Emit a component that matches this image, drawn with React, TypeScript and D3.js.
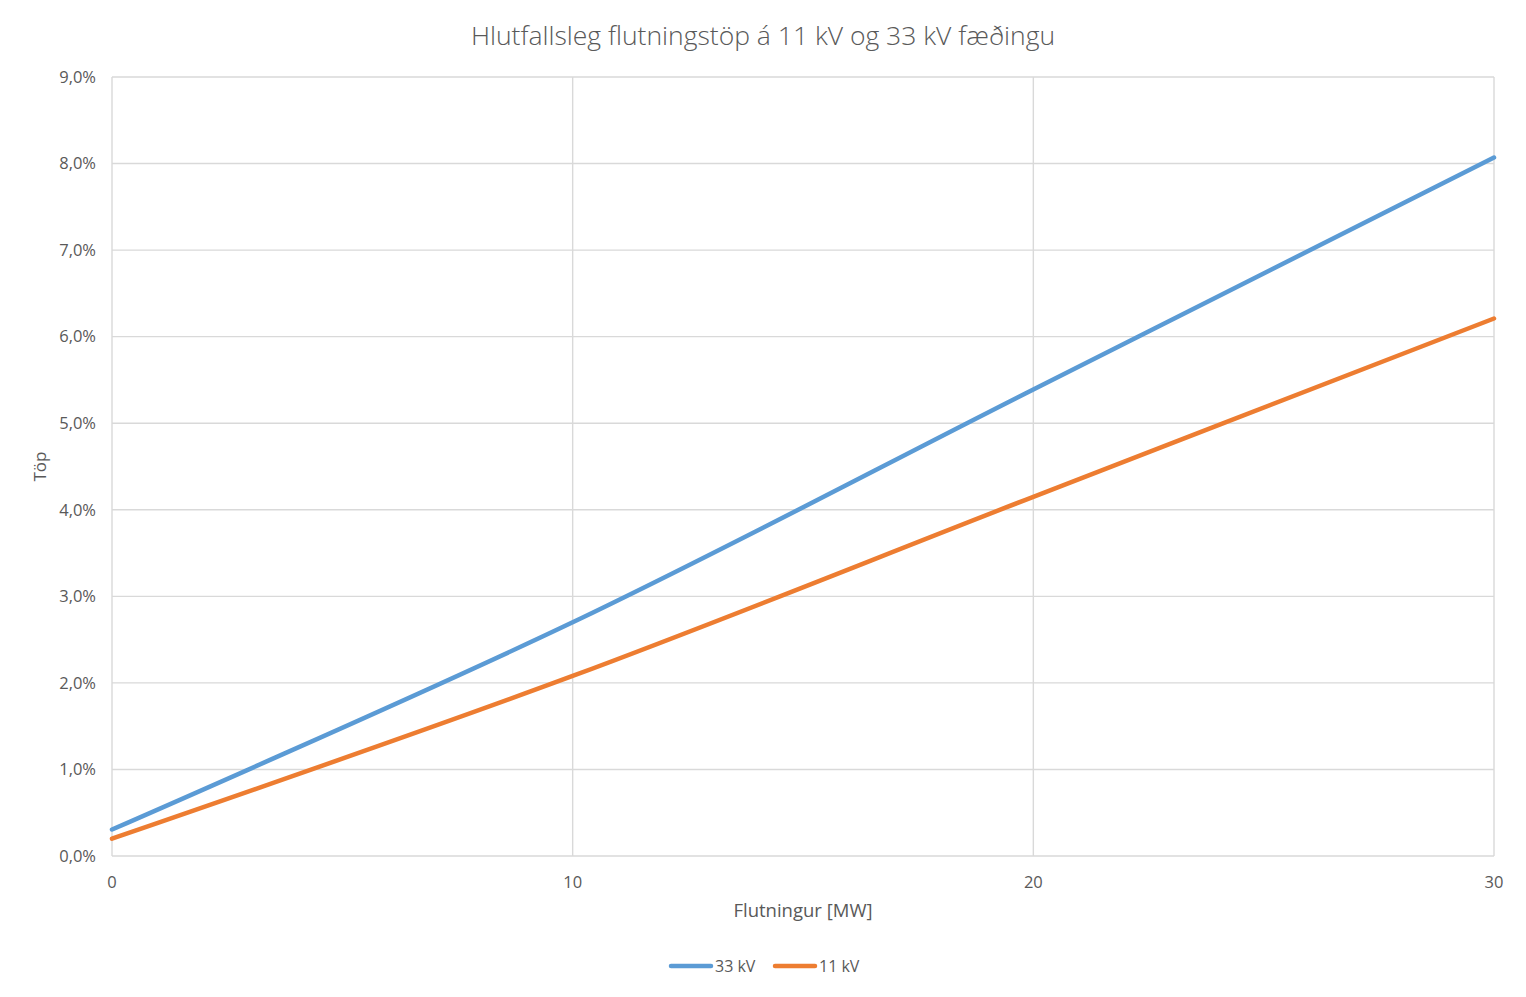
import { useEffect, useRef } from "react";
import * as d3 from "d3";

// Load flow [MW] and relative losses [%]
const loadMW = [0, 10, 20, 30];
const loss33kV = [0.306, 2.7, 5.39, 8.07];
const loss11kV = [0.2, 2.08, 4.15, 6.21];
const yTicks = [0, 1, 2, 3, 4, 5, 6, 7, 8, 9];
const xTicks = [0, 10, 20, 30];

const seriesNames = ["33 kV", "11 kV"];
const seriesColors = ["#5b9bd5", "#ed7d31"];

const WIDTH = 1526;
const HEIGHT = 997;
const FONT = "'Open Sans', 'Liberation Sans', sans-serif";
const TEXT = "#595959";
const GRID = "#d9d9d9";

const locale = d3.formatLocale({
  decimal: ",",
  thousands: ".",
  grouping: [3],
  currency: ["", " kr"],
});
const pct = locale.format(".1f");

export default function App() {
  const svgRef = useRef<SVGSVGElement>(null);

  useEffect(() => {
    if (!svgRef.current) return;
    const svg = d3.select(svgRef.current);
    svg.selectAll("*").remove();

    const margin = { top: 77, right: 32, bottom: 141, left: 112 };
    const innerW = WIDTH - margin.left - margin.right;
    const innerH = HEIGHT - margin.top - margin.bottom;

    const x = d3.scaleLinear().domain([0, 30]).range([0, innerW]);
    const y = d3.scaleLinear().domain([0, 9]).range([innerH, 0]);

    const g = svg
      .append("g")
      .attr("transform", `translate(${margin.left}, ${margin.top})`);

    // Gridlines
    g.selectAll(".hgrid")
      .data(yTicks)
      .enter()
      .append("line")
      .attr("x1", 0)
      .attr("x2", innerW)
      .attr("y1", (d) => y(d))
      .attr("y2", (d) => y(d))
      .attr("stroke", GRID)
      .attr("stroke-width", 1.4);

    g.selectAll(".vgrid")
      .data(xTicks)
      .enter()
      .append("line")
      .attr("x1", (d) => x(d))
      .attr("x2", (d) => x(d))
      .attr("y1", 0)
      .attr("y2", innerH)
      .attr("stroke", GRID)
      .attr("stroke-width", 1.4);

    // Tick labels
    g.selectAll(".ylabel")
      .data(yTicks)
      .enter()
      .append("text")
      .attr("x", -16)
      .attr("y", (d) => y(d))
      .attr("dy", "0.35em")
      .attr("text-anchor", "end")
      .style("font-family", FONT)
      .style("font-size", "16.5px")
      .style("fill", TEXT)
      .text((d) => pct(d) + "%");

    g.selectAll(".xlabel")
      .data(xTicks)
      .enter()
      .append("text")
      .attr("x", (d) => x(d))
      .attr("y", innerH + 26)
      .attr("dy", "0.35em")
      .attr("text-anchor", "middle")
      .style("font-family", FONT)
      .style("font-size", "16.5px")
      .style("fill", TEXT)
      .text((d) => d);

    // Lines
    const line = d3
      .line<[number, number]>()
      .x((d) => x(d[0]))
      .y((d) => y(d[1]))
      .curve(d3.curveCardinal.tension(0));

    [loss33kV, loss11kV].forEach((vals, i) => {
      g.append("path")
        .datum(loadMW.map((m, j) => [m, vals[j]] as [number, number]))
        .attr("d", line)
        .attr("fill", "none")
        .attr("stroke", seriesColors[i])
        .attr("stroke-width", 4.5)
        .attr("stroke-linecap", "round");
    });

    // Title and axis titles
    svg
      .append("text")
      .attr("x", WIDTH / 2)
      .attr("y", 36)
      .attr("dy", "0.35em")
      .attr("text-anchor", "middle")
      .style("font-family", FONT)
      .style("font-size", "26.5px")
      .style("font-weight", 300)
      .style("fill", TEXT)
      .text("Hlutfallsleg flutningstöp á 11 kV og 33 kV fæðingu");

    svg
      .append("text")
      .attr("x", margin.left + innerW / 2)
      .attr("y", 911)
      .attr("dy", "0.35em")
      .attr("text-anchor", "middle")
      .style("font-family", FONT)
      .style("font-size", "18.5px")
      .style("fill", TEXT)
      .text("Flutningur [MW]");

    svg
      .append("text")
      .attr("transform", `translate(40, ${margin.top + innerH / 2}) rotate(-90)`)
      .attr("dy", "0.35em")
      .attr("text-anchor", "middle")
      .style("font-family", FONT)
      .style("font-size", "17px")
      .style("fill", TEXT)
      .text("Töp");

    // Legend
    const legend = svg.append("g").attr("transform", "translate(669, 966)");
    const offsets = [0, 104];
    seriesNames.forEach((name, i) => {
      const item = legend.append("g").attr("transform", `translate(${offsets[i]}, 0)`);
      item
        .append("line")
        .attr("x1", 2)
        .attr("x2", 42)
        .attr("stroke", seriesColors[i])
        .attr("stroke-width", 4.5)
        .attr("stroke-linecap", "round");
      item
        .append("text")
        .attr("x", 46)
        .attr("dy", "0.35em")
        .style("font-family", FONT)
        .style("font-size", "16px")
        .style("fill", TEXT)
        .text(name);
    });
  }, []);

  return (
    <svg
      ref={svgRef}
      width={WIDTH}
      height={HEIGHT}
      style={{ position: "absolute", left: 0, top: 0, background: "#fff" }}
    />
  );
}
